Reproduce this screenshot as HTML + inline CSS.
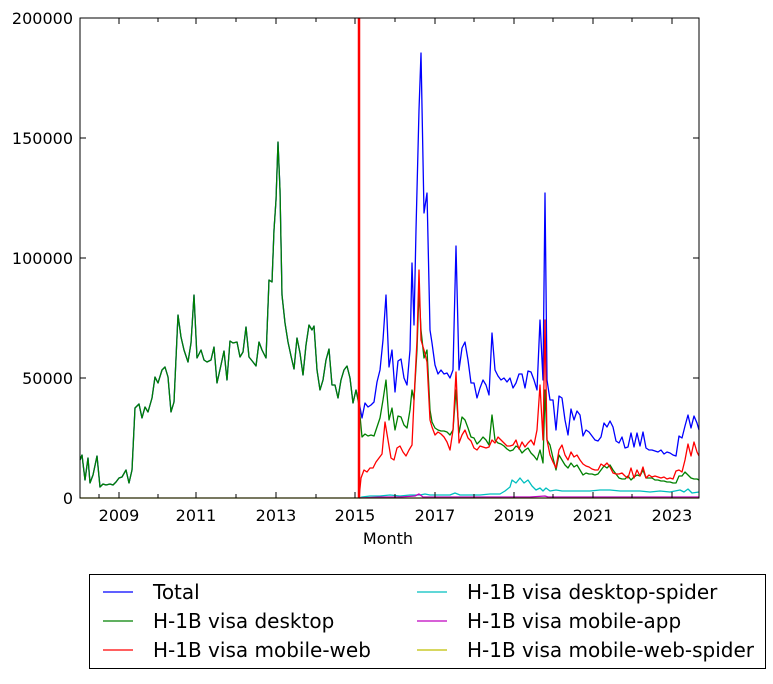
<!DOCTYPE html>
<html><head><meta charset="utf-8"><style>
body{margin:0;background:#fff;}
svg text{font-family:"DejaVu Sans","Liberation Sans",sans-serif;}
</style></head><body>
<svg width="773" height="679" xmlns="http://www.w3.org/2000/svg">
<rect width="773" height="679" fill="#fff"/>
<g fill="none" stroke-width="1.3" stroke-linejoin="round">
<polyline stroke="#0000ff" points="80,460 82,455 85,480 88,458 90,483 93,475 97,456 100,487 103,484 106,485 110,484 113,485 116,482 119,478 122,477 126,470 129,483 132,470 135,408 139,404 142,418 145,407 148,412 152,398 155,377 158,383 162,370 165,367 168,377 171,412 174,402 178,315 181,337 184,350 188,362 191,343 194,295 197,358 201,350 204,360 207,362 211,360 214,347 217,383 221,365 224,351 227,380 230,341 233,343 237,342 240,357 243,352 246,327 249,357 253,362 256,366 259,342 262,350 266,358 269,280 272,282 274,230 276,200 278,142 280,190 282,295 285,323 288,342 291,356 294,369 297,338 300,353 303,375 306,345 309,325 312,330 314,326 317,370 320,390 323,380 326,360 329,349 332,385 335,385 338,398 341,380 344,370 347,366 350,378 353,403 356,390 359,402 362,418 365,403 368,407 371,405 374,402 377,382 380,370 383,340 386,295 389,367 392,350 395,392 398,361 401,359 404,378 407,385 410,350 412,263 414,325 416,230 419,110 421,53 423,160 424,213 427,193 430,330 432,343 435,365 438,374 441,370 444,374 447,373 450,378 453,370 456,246 459,370 462,348 465,342 468,360 471,383 474,383 477,398 480,388 483,380 486,385 489,395 492,333 495,370 498,376 501,380 504,378 507,382 510,378 513,388 516,383 519,374 522,374 525,388 528,371 531,372 534,380 537,390 540,320 543,380 545,193 547,380 550,400 553,400 556,430 559,396 562,398 565,420 568,435 571,409 574,420 577,411 580,415 583,436 586,430 589,432 592,436 595,440 598,441 601,437 604,423 607,427 610,421 613,427 616,441 619,443 622,437 625,448 628,447 631,433 634,447 637,433 640,446 643,432 646,448 649,450 652,450 655,451 658,452 661,450 664,454 667,452 670,453 673,455 676,456 679,436 682,438 685,426 688,415 691,428 694,416 697,423 699,430"/>
<polyline stroke="#008000" points="80,460 82,455 85,480 88,458 90,483 93,475 97,456 100,487 103,484 106,485 110,484 113,485 116,482 119,478 122,477 126,470 129,483 132,470 135,408 139,404 142,418 145,407 148,412 152,398 155,377 158,383 162,370 165,367 168,377 171,412 174,402 178,315 181,337 184,350 188,362 191,343 194,295 197,358 201,350 204,360 207,362 211,360 214,347 217,383 221,365 224,351 227,380 230,341 233,343 237,342 240,357 243,352 246,327 249,357 253,362 256,366 259,342 262,350 266,358 269,280 272,282 274,230 276,200 278,142 280,190 282,295 285,323 288,342 291,356 294,369 297,338 300,353 303,375 306,345 309,325 312,330 314,326 317,370 320,390 323,380 326,360 329,349 332,385 335,385 338,398 341,380 344,370 347,366 350,378 353,403 356,390 359,405 362,437 365,434 368,436 371,435 374,436 377,427 380,418 383,400 386,380 389,420 392,408 395,430 398,416 401,417 404,425 407,428 410,410 412,390 414,400 417,350 419,290 421,330 424,358 427,350 430,410 432,422 435,428 438,430 441,431 444,431 447,432 450,435 453,430 456,390 459,433 462,417 465,420 468,428 471,437 474,438 477,444 480,441 483,437 486,440 489,445 492,415 495,440 498,443 501,444 504,446 507,449 510,451 513,450 516,446 519,448 522,453 525,450 528,448 531,453 534,456 537,460 540,450 543,463 545,390 547,440 550,445 553,458 556,470 559,455 562,460 565,465 568,468 571,463 574,467 577,465 580,470 583,475 586,473 589,474 592,474 595,475 598,474 601,470 604,466 607,468 610,465 613,470 616,474 619,478 622,479 625,479 628,476 631,480 634,477 637,475 640,476 643,470 646,478 649,478 652,478 655,480 658,480 661,481 664,481 667,482 670,482 673,483 676,483 679,476 682,476 685,472 688,475 691,478 694,479 697,479 699,480"/>
<polyline stroke="#ff0000" points="359,498 361,478 364,470 367,472 370,468 373,468 376,462 379,458 382,454 385,422 388,440 391,458 394,460 397,448 400,446 403,452 406,456 409,450 412,445 414,400 417,340 419,270 421,340 424,350 427,362 430,420 432,427 435,435 438,432 441,434 444,437 447,442 450,450 453,430 456,372 459,443 462,435 465,430 468,438 471,441 474,448 477,450 480,446 483,447 486,448 489,447 492,440 495,443 498,437 501,440 504,443 507,446 510,446 513,445 516,440 519,449 522,442 525,447 528,443 531,440 534,445 537,430 540,385 543,440 545,320 547,440 550,455 553,462 556,468 559,450 562,445 565,455 568,460 571,452 574,457 577,455 580,460 583,464 586,466 589,467 592,469 595,470 598,470 601,464 604,466 607,463 610,467 613,473 616,474 619,474 622,473 625,476 628,478 631,468 634,478 637,470 640,476 643,467 646,478 649,475 652,477 655,476 658,477 661,478 664,477 667,479 670,478 673,479 676,471 679,470 682,472 685,460 688,444 691,456 694,442 697,452 699,456"/>
<polyline stroke="#00bfbf" points="359,498 362,497 370,496 380,496 390,495 400,496 410,495 420,495 425,494 430,495 440,495 450,495 455,493 460,495 470,495 480,495 490,494 500,494 505,491 510,487 512,480 516,483 520,478 524,483 528,480 532,486 536,490 540,488 543,491 546,488 550,491 556,490 562,491 570,491 580,491 590,491 600,490 610,490 620,491 630,491 640,491 650,492 660,491 670,492 680,490 684,492 688,489 692,493 699,492"/>
<polyline stroke="#bf00bf" points="359,498 380,497 400,497 415,496 419,494 423,497 440,497 480,497 530,497 545,496 548,497 600,497 699,497"/>
<polyline stroke="#bfbf00" points="80,498 699,498"/>
</g>
<line x1="359" y1="18" x2="359" y2="498" stroke="#ff0000" stroke-width="2.5"/>
<rect x="80" y="18" width="619" height="480" fill="none" stroke="#000" stroke-width="1"/>
<g stroke="#000" stroke-width="1">
<line x1="80" y1="378" x2="86" y2="378"/><line x1="80" y1="258" x2="86" y2="258"/><line x1="80" y1="138" x2="86" y2="138"/>
<line x1="699" y1="378" x2="693" y2="378"/><line x1="699" y1="258" x2="693" y2="258"/><line x1="699" y1="138" x2="693" y2="138"/>
<line x1="99" y1="498" x2="99" y2="494"/><line x1="119" y1="498" x2="119" y2="492"/><line x1="158" y1="498" x2="158" y2="494"/><line x1="196" y1="498" x2="196" y2="492"/><line x1="236" y1="498" x2="236" y2="494"/><line x1="276" y1="498" x2="276" y2="492"/><line x1="316" y1="498" x2="316" y2="494"/><line x1="355" y1="498" x2="355" y2="492"/><line x1="395" y1="498" x2="395" y2="494"/><line x1="435" y1="498" x2="435" y2="492"/><line x1="474" y1="498" x2="474" y2="494"/><line x1="514" y1="498" x2="514" y2="492"/><line x1="553" y1="498" x2="553" y2="494"/><line x1="593" y1="498" x2="593" y2="492"/><line x1="632" y1="498" x2="632" y2="494"/><line x1="672" y1="498" x2="672" y2="492"/>
<line x1="119" y1="18" x2="119" y2="24"/><line x1="158" y1="18" x2="158" y2="22"/><line x1="196" y1="18" x2="196" y2="24"/><line x1="236" y1="18" x2="236" y2="22"/><line x1="276" y1="18" x2="276" y2="24"/><line x1="316" y1="18" x2="316" y2="22"/><line x1="355" y1="18" x2="355" y2="24"/><line x1="395" y1="18" x2="395" y2="22"/><line x1="435" y1="18" x2="435" y2="24"/><line x1="474" y1="18" x2="474" y2="22"/><line x1="514" y1="18" x2="514" y2="24"/><line x1="553" y1="18" x2="553" y2="22"/><line x1="593" y1="18" x2="593" y2="24"/><line x1="632" y1="18" x2="632" y2="22"/><line x1="672" y1="18" x2="672" y2="24"/>
</g>
<g font-size="16" fill="#000" text-anchor="end">
<text x="73" y="504">0</text><text x="73" y="384">50000</text><text x="73" y="264">100000</text><text x="73" y="144">150000</text><text x="73" y="24">200000</text>
</g>
<g font-size="16" fill="#000" text-anchor="middle">
<text x="119" y="521">2009</text><text x="196" y="521">2011</text><text x="276" y="521">2013</text><text x="355" y="521">2015</text><text x="435" y="521">2017</text><text x="514" y="521">2019</text><text x="593" y="521">2021</text><text x="672" y="521">2023</text>
<text x="388" y="544">Month</text>
</g>
<rect x="89.5" y="574.5" width="676" height="94" fill="#fff" stroke="#000"/>
<g stroke-width="1.3">
<line x1="103" y1="592" x2="133" y2="592" stroke="#0000ff"/>
<line x1="103" y1="621" x2="133" y2="621" stroke="#008000"/>
<line x1="103" y1="650" x2="133" y2="650" stroke="#ff0000"/>
<line x1="417" y1="592" x2="447" y2="592" stroke="#00bfbf"/>
<line x1="417" y1="621" x2="447" y2="621" stroke="#bf00bf"/>
<line x1="417" y1="650" x2="447" y2="650" stroke="#bfbf00"/>
</g>
<g font-size="20" fill="#000">
<text x="153" y="599">Total</text>
<text x="153" y="628">H-1B visa desktop</text>
<text x="153" y="657">H-1B visa mobile-web</text>
<text x="467" y="599">H-1B visa desktop-spider</text>
<text x="467" y="628">H-1B visa mobile-app</text>
<text x="467" y="657">H-1B visa mobile-web-spider</text>
</g>
</svg>
</body></html>
